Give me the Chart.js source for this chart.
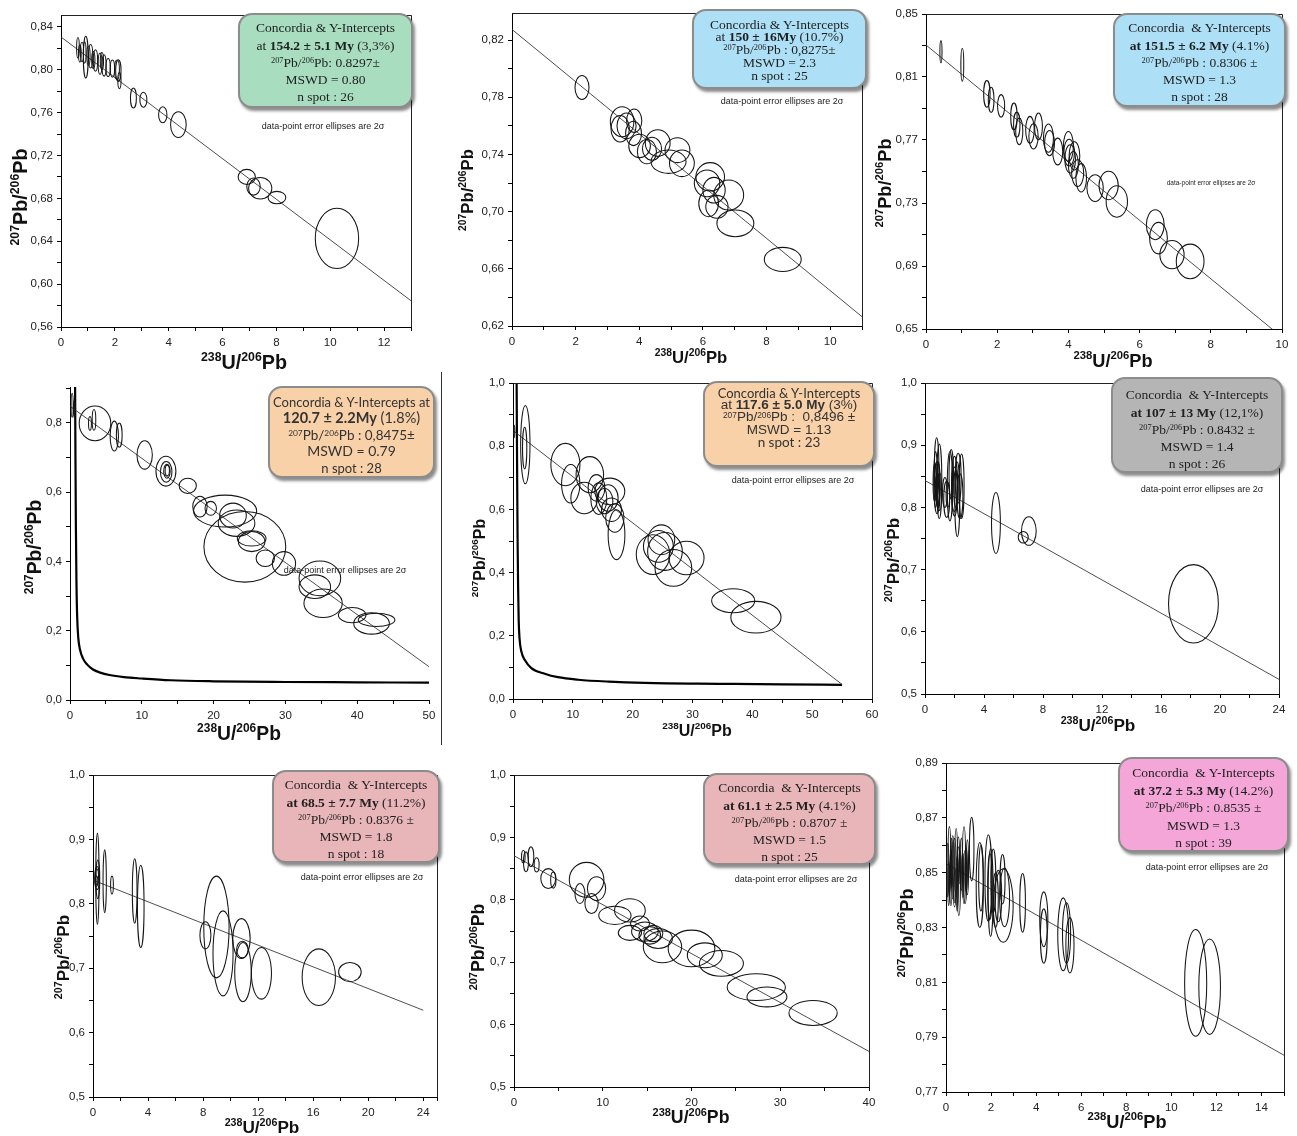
<!DOCTYPE html>
<html><head><meta charset="utf-8">
<script src="https://cdn.jsdelivr.net/npm/chart.js@4.4.1/dist/chart.umd.min.js"></script>
<style>
html,body{margin:0;padding:0;background:#fff;}
body{position:relative;width:1297px;height:1136px;overflow:hidden;}
canvas.pc{position:absolute;z-index:1;}
.box{position:absolute;z-index:5;box-sizing:border-box;border:2px solid #8c8c8c;border-radius:14px;box-shadow:2px 3px 3px rgba(0,0,0,0.45);text-align:center;color:#1e1e1e;font-family:"Liberation Serif","Times New Roman",serif;font-size:13.5px;}
.box div{white-space:pre;}
.box sup{font-size:0.62em;vertical-align:0;position:relative;top:-0.45em;line-height:0;}
.sans{font-family:Lato,"Liberation Sans",sans-serif;font-size:13px;color:#333;}
.note{position:absolute;z-index:5;font-family:"Liberation Sans",Arial,sans-serif;font-size:9px;color:#222;transform:translate(-50%,-50%);white-space:nowrap;}
.sep{position:absolute;left:441px;top:372px;width:1px;height:373px;background:#333;}
</style></head>
<body>
<div class="sep"></div>

<div class="box" style="left:238px;top:13px;width:175px;height:95px;padding-top:4.3px;background:#a8ddc0">
<div style="height:17.3px;line-height:17.3px">Concordia &amp; Y-Intercepts</div>
<div style="height:17.3px;line-height:17.3px">at <b>154.2 ± 5.1 My</b> (3,3%)</div>
<div style="height:17.3px;line-height:17.3px"><sup>207</sup>Pb/<sup>206</sup>Pb: 0.8297±</div>
<div style="height:17.3px;line-height:17.3px">MSWD = 0.80</div>
<div style="height:17.3px;line-height:17.3px">n spot : 26</div>
</div>
<div class="note" style="left:323px;top:126px">data-point error ellipses are 2σ</div>

<div class="box" style="left:692px;top:9px;width:175px;height:80px;padding-top:7.6px;background:#ade0f6">
<div style="height:12.75px;line-height:12.75px">Concordia &amp; Y-Intercepts</div>
<div style="height:12.75px;line-height:12.75px">at <b>150 ± 16My</b> (10.7%)</div>
<div style="height:12.75px;line-height:12.75px"><sup>207</sup>Pb/<sup>206</sup>Pb : 0,8275±</div>
<div style="height:12.75px;line-height:12.75px">MSWD = 2.3</div>
<div style="height:12.75px;line-height:12.75px">n spot : 25</div>
</div>
<div class="note" style="left:782px;top:101px">data-point error ellipses are 2σ</div>

<div class="box" style="left:1113px;top:13px;width:173px;height:94px;padding-top:4.3px;background:#ade0f6">
<div style="height:17.3px;line-height:17.3px">Concordia  &amp; Y-Intercepts</div>
<div style="height:17.3px;line-height:17.3px"><b>at 151.5 ± 6.2 My</b> (4.1%)</div>
<div style="height:17.3px;line-height:17.3px"><sup>207</sup>Pb/<sup>206</sup>Pb : 0.8306 ±</div>
<div style="height:17.3px;line-height:17.3px">MSWD = 1.3</div>
<div style="height:17.3px;line-height:17.3px">n spot : 28</div>
</div>
<div class="note" style="left:1211px;top:182px;font-size:6.5px">data-point error ellipses are 2σ</div>

<div class="box sans" style="left:268px;top:386px;width:167px;height:92px;padding-top:5.7px;background:#f9d1a8">
<div style="height:16.5px;line-height:16.5px;font-size:13px">Concordia &amp; Y-Intercepts at</div>
<div style="height:16.5px;line-height:16.5px;font-size:14.5px"><b>120.7 ± 2.2My</b> (1.8%)</div>
<div style="height:16.5px;line-height:16.5px;font-size:13.5px"><sup>207</sup>Pb/<sup>206</sup>Pb : 0,8475±</div>
<div style="height:16.5px;line-height:16.5px;font-size:14px">MSWD = 0.79</div>
<div style="height:16.5px;line-height:16.5px;font-size:13px">n spot : 28</div>
</div>
<div class="note" style="left:345px;top:570px">data-point error ellipses are 2σ</div>

<div class="box sans" style="left:703px;top:381px;width:172px;height:86px;padding-top:3.9px;background:#f9d1a8">
<div style="height:12.25px;line-height:12.25px">Concordia &amp; Y-Intercepts</div>
<div style="height:12.25px;line-height:12.25px;font-family:'Liberation Sans';font-size:13.5px">at <b>117.6 ± 5.0 My</b> (3%)</div>
<div style="height:12.25px;line-height:12.25px;font-family:'Liberation Sans';font-size:13.5px"><sup>207</sup>Pb/<sup>206</sup>Pb :  0,8496 ±</div>
<div style="height:12.25px;line-height:12.25px;font-family:'Liberation Sans';font-size:13.5px">MSWD = 1.13</div>
<div style="height:12.25px;line-height:12.25px;font-size:13.5px">n spot : 23</div>
</div>
<div class="note" style="left:793px;top:480px">data-point error ellipses are 2σ</div>

<div class="box" style="left:1111px;top:377px;width:172px;height:96px;padding-top:7.3px;background:#b5b5b5">
<div style="height:17.3px;line-height:17.3px">Concordia  &amp; Y-Intercepts</div>
<div style="height:17.3px;line-height:17.3px"><b>at 107 ± 13 My</b> (12,1%)</div>
<div style="height:17.3px;line-height:17.3px"><sup>207</sup>Pb/<sup>206</sup>Pb : 0.8432 ±</div>
<div style="height:17.3px;line-height:17.3px">MSWD = 1.4</div>
<div style="height:17.3px;line-height:17.3px">n spot : 26</div>
</div>
<div class="note" style="left:1202px;top:489px">data-point error ellipses are 2σ</div>

<div class="box" style="left:272px;top:770px;width:168px;height:93px;padding-top:4.3px;background:#e8b5b9">
<div style="height:17.3px;line-height:17.3px">Concordia  &amp; Y-Intercepts</div>
<div style="height:17.3px;line-height:17.3px"><b>at 68.5 ± 7.7 My</b> (11.2%)</div>
<div style="height:17.3px;line-height:17.3px"><sup>207</sup>Pb/<sup>206</sup>Pb : 0.8376 ±</div>
<div style="height:17.3px;line-height:17.3px">MSWD = 1.8</div>
<div style="height:17.3px;line-height:17.3px">n spot : 18</div>
</div>
<div class="note" style="left:362px;top:877px">data-point error ellipses are 2σ</div>

<div class="box" style="left:703px;top:773px;width:173px;height:92px;padding-top:4.3px;background:#e8b5b9">
<div style="height:17.3px;line-height:17.3px">Concordia  &amp; Y-Intercepts</div>
<div style="height:17.3px;line-height:17.3px"><b>at 61.1 ± 2.5 My</b> (4.1%)</div>
<div style="height:17.3px;line-height:17.3px"><sup>207</sup>Pb/<sup>206</sup>Pb : 0.8707 ±</div>
<div style="height:17.3px;line-height:17.3px">MSWD = 1.5</div>
<div style="height:17.3px;line-height:17.3px">n spot : 25</div>
</div>
<div class="note" style="left:796px;top:879px">data-point error ellipses are 2σ</div>

<div class="box" style="left:1118px;top:757px;width:171px;height:95px;padding-top:5.2px;background:#f4a6d8">
<div style="height:17.5px;line-height:17.5px">Concordia  &amp; Y-Intercepts</div>
<div style="height:17.5px;line-height:17.5px"><b>at 37.2 ± 5.3 My</b> (14.2%)</div>
<div style="height:17.5px;line-height:17.5px"><sup>207</sup>Pb/<sup>206</sup>Pb : 0.8535 ±</div>
<div style="height:17.5px;line-height:17.5px">MSWD = 1.3</div>
<div style="height:17.5px;line-height:17.5px">n spot : 39</div>
</div>
<div class="note" style="left:1207px;top:867px">data-point error ellipses are 2σ</div>

<script>
// ---------------- DATA ----------------
// Panel 1
const p1X  = [0.63,0.70,0.78,0.92,0.88,1.02,1.10,1.20,1.28,1.45,1.52,1.60,1.75,1.91,2.08,2.13,2.17,2.69,3.06,3.78,4.36,6.90,7.15,7.40,8.02,10.25];
const p1Y  = [0.8205,0.815,0.8165,0.8117,0.816,0.813,0.8125,0.809,0.8086,0.8055,0.808,0.804,0.802,0.801,0.800,0.7992,0.7898,0.7736,0.772,0.758,0.7487,0.700,0.691,0.6894,0.6807,0.6426];
const p1RX = [0.05,0.05,0.06,0.09,0.05,0.06,0.08,0.06,0.08,0.07,0.06,0.075,0.08,0.08,0.09,0.10,0.06,0.11,0.13,0.155,0.29,0.32,0.25,0.43,0.33,0.805];
const p1RY = [0.0096,0.008,0.009,0.0195,0.010,0.009,0.011,0.008,0.010,0.010,0.008,0.010,0.0085,0.008,0.009,0.0101,0.0075,0.0094,0.007,0.0075,0.012,0.007,0.008,0.0101,0.0058,0.0281];
const p1LineX = [0, 13];
const p1LineY = [0.8305, 0.5845];
// Panel 2
const p2X  = [2.20,3.46,3.40,3.84,3.82,4.01,4.24,4.58,4.92,5.20,5.34,6.23,6.13,6.18,6.81,6.44,7.02,8.51,3.60,6.35,4.40];
const p2Y  = [0.7869,0.7629,0.758,0.7636,0.7547,0.746,0.742,0.748,0.735,0.743,0.7338,0.7244,0.7198,0.7058,0.7116,0.7034,0.6918,0.6666,0.760,0.715,0.744];
const p2RX = [0.22,0.37,0.29,0.24,0.25,0.34,0.30,0.39,0.55,0.39,0.39,0.45,0.40,0.31,0.47,0.35,0.58,0.58,0.30,0.35,0.30];
const p2RY = [0.0084,0.0105,0.0093,0.0082,0.0085,0.0082,0.0085,0.0093,0.0082,0.0087,0.0093,0.0099,0.0093,0.0093,0.0105,0.0080,0.0093,0.0084,0.009,0.009,0.008];
const p2LineX = [0, 11];
const p2LineY = [0.8275, 0.6265];
// Panel 3
const p3X  = [0.42,1.02,1.71,1.83,2.11,2.47,2.55,2.62,2.92,3.02,3.16,3.44,3.47,3.70,4.00,4.02,4.17,4.14,4.26,4.36,4.75,5.13,5.36,6.44,6.53,6.91,7.42,4.05];
const p3Y  = [0.8261,0.8177,0.7993,0.7955,0.7917,0.785,0.7797,0.7755,0.7765,0.7723,0.7786,0.7712,0.768,0.7627,0.7659,0.762,0.7599,0.7542,0.749,0.746,0.7395,0.7411,0.731,0.7162,0.7077,0.6972,0.6929,0.758];
const p3RX = [0.03,0.04,0.09,0.08,0.10,0.09,0.09,0.10,0.12,0.13,0.11,0.14,0.14,0.14,0.14,0.15,0.15,0.14,0.17,0.15,0.23,0.27,0.30,0.25,0.25,0.34,0.39,0.15];
const p3RY = [0.007,0.0104,0.0085,0.008,0.0071,0.0085,0.008,0.0085,0.0085,0.008,0.0085,0.009,0.008,0.0085,0.0095,0.0085,0.009,0.0085,0.0085,0.009,0.0085,0.009,0.010,0.0095,0.010,0.009,0.011,0.009];
const p3LineX = [0, 10];
const p3LineY = [0.8303, 0.6448];
// Panel 4
const p4X  = [0.30,0.60,3.48,3.34,2.78,6.17,6.86,10.4,13.36,13.4,13.5,13.55,16.4,18.1,19.6,21.6,22.7,23.2,24.35,25.3,25.3,27.2,29.8,34.8,34.1,35.25,39.3,42.0,42.7];
const p4Y  = [0.850,0.840,0.798,0.808,0.798,0.7615,0.764,0.707,0.660,0.658,0.660,0.662,0.618,0.558,0.553,0.545,0.532,0.510,0.442,0.466,0.457,0.409,0.394,0.351,0.327,0.279,0.245,0.221,0.231];
const p4RX = [0.15,0.12,2.2,0.25,0.2,0.58,0.4,1.07,1.39,0.8,0.45,0.3,1.2,1.0,0.8,4.4,1.86,2.55,5.7,2.0,1.85,1.28,1.62,2.9,2.2,2.67,1.92,2.48,2.55];
const p4RY = [0.035,0.025,0.05,0.03,0.02,0.043,0.035,0.041,0.043,0.03,0.02,0.015,0.022,0.03,0.02,0.046,0.036,0.038,0.102,0.022,0.029,0.024,0.034,0.05,0.034,0.041,0.022,0.031,0.019];
const p4LineX = [0, 50];
const p4LineY = [0.8475, 0.096];
const p4ConcX = [0.70,0.76,0.82,0.90,1.00,1.15,1.40,1.80,2.40,3.20,4.20,5.50,7.50,10,14,20,30,40,50];
const p4ConcY = [0.95,0.70,0.50,0.34,0.24,0.18,0.145,0.12,0.102,0.088,0.079,0.072,0.066,0.062,0.057,0.054,0.052,0.051,0.05];
// Panel 5
const p5X  = [2.06,1.95,0.20,8.76,9.65,12.84,11.90,13.95,14.34,16.18,15.90,15.30,16.46,17.02,17.30,23.40,24.80,24.30,25.40,26.80,29.00,36.80,40.60];
const p5Y  = [0.805,0.794,0.847,0.742,0.681,0.710,0.636,0.668,0.634,0.657,0.636,0.626,0.599,0.573,0.520,0.457,0.504,0.483,0.467,0.415,0.446,0.311,0.259];
const p5RX = [0.78,0.36,0.10,2.43,1.53,2.30,2.23,1.40,1.34,2.50,1.67,1.40,1.67,1.53,1.40,2.80,2.23,2.50,2.90,3.07,2.93,3.60,4.20];
const p5RY = [0.124,0.066,0.02,0.067,0.061,0.057,0.050,0.042,0.050,0.042,0.042,0.040,0.037,0.045,0.079,0.063,0.047,0.050,0.060,0.058,0.053,0.038,0.050];
const p5LineX = [0, 55];
const p5LineY = [0.8496, 0.046];
const p5ConcX = [0.60,0.68,0.76,0.85,0.95,1.10,1.40,1.95,3.07,5.3,7.5,10.9,16,22,35,45,55];
const p5ConcY = [1.02,0.75,0.52,0.36,0.25,0.19,0.15,0.124,0.098,0.080,0.069,0.061,0.055,0.051,0.048,0.046,0.045];
// Panel 6
const p6X  = [0.65,0.72,0.79,0.82,0.85,0.90,0.97,1.00,0.75,0.88,1.35,1.47,1.55,1.69,1.78,1.99,2.00,2.10,2.19,2.25,2.37,2.48,4.81,6.66,7.04,18.2];
const p6Y  = [0.840,0.845,0.864,0.832,0.830,0.838,0.842,0.825,0.850,0.820,0.824,0.813,0.820,0.834,0.853,0.829,0.834,0.830,0.813,0.847,0.818,0.834,0.775,0.752,0.762,0.645];
const p6RX = [0.10,0.12,0.15,0.20,0.15,0.12,0.17,0.12,0.10,0.10,0.16,0.20,0.12,0.18,0.15,0.19,0.20,0.15,0.17,0.20,0.20,0.17,0.30,0.34,0.50,1.69];
const p6RY = [0.030,0.045,0.048,0.042,0.025,0.035,0.060,0.030,0.020,0.020,0.024,0.029,0.020,0.056,0.040,0.036,0.048,0.030,0.060,0.040,0.036,0.052,0.049,0.0093,0.023,0.063];
const p6LineX = [0, 24];
const p6LineY = [0.8432, 0.5235];
// Panel 7
const p7X  = [0.32,0.30,0.35,0.28,0.25,0.85,1.38,3.03,3.47,8.17,8.97,9.45,10.79,10.86,10.90,12.24,16.41,18.67];
const p7Y  = [0.839,0.840,0.838,0.842,0.835,0.835,0.829,0.820,0.796,0.751,0.764,0.723,0.746,0.729,0.694,0.692,0.686,0.694];
const p7RX = [0.12,0.17,0.14,0.12,0.10,0.12,0.10,0.17,0.24,0.40,0.92,0.73,0.63,0.42,0.60,0.73,1.21,0.82];
const p7RY = [0.071,0.018,0.030,0.012,0.008,0.049,0.014,0.050,0.064,0.021,0.079,0.066,0.031,0.013,0.046,0.040,0.044,0.015];
const p7LineX = [0, 24];
const p7LineY = [0.8368, 0.6347];
// Panel 8
const p8X  = [1.05,1.35,1.91,2.55,3.86,4.43,8.18,7.43,9.30,8.74,11.37,13.06,14.20,13.06,14.75,15.30,15.70,16.25,16.73,20.00,21.50,23.37,27.30,28.50,33.70];
const p8Y  = [0.869,0.861,0.869,0.856,0.834,0.8316,0.832,0.810,0.818,0.794,0.775,0.783,0.762,0.747,0.749,0.743,0.746,0.738,0.7246,0.722,0.711,0.698,0.660,0.6444,0.6187];
const p8RX = [0.20,0.28,0.32,0.28,0.84,0.30,1.95,0.56,1.03,0.75,1.82,1.73,1.07,1.31,1.50,1.22,1.07,1.60,2.16,2.63,1.97,2.48,3.28,2.25,2.72];
const p8RY = [0.010,0.016,0.016,0.0115,0.016,0.013,0.028,0.016,0.019,0.016,0.0147,0.0187,0.012,0.012,0.0155,0.014,0.013,0.016,0.0254,0.0294,0.020,0.0206,0.0214,0.016,0.020];
const p8LineX = [0, 40];
const p8LineY = [0.8706, 0.557];
// Panel 9
const p9X  = [0.08,0.15,0.22,0.30,0.38,0.45,0.50,0.57,0.62,0.68,0.75,0.80,0.85,0.90,0.40,0.12,0.55,0.25,0.95,1.14,1.50,1.55,1.88,1.98,2.10,2.32,2.51,2.54,2.60,3.40,4.34,4.34,5.20,5.35,5.50,11.08,11.70,1.95,2.20];
const p9Y  = [0.851,0.8546,0.848,0.852,0.850,0.8536,0.846,0.8469,0.852,0.8531,0.849,0.8527,0.8485,0.851,0.845,0.846,0.855,0.8535,0.852,0.8586,0.8455,0.848,0.848,0.8427,0.847,0.8415,0.8476,0.838,0.841,0.839,0.833,0.8269,0.8275,0.828,0.8235,0.8098,0.8084,0.845,0.840];
const p9RX = [0.05,0.06,0.05,0.06,0.07,0.06,0.05,0.07,0.05,0.05,0.05,0.07,0.07,0.05,0.05,0.04,0.05,0.05,0.05,0.10,0.16,0.10,0.15,0.11,0.11,0.15,0.11,0.44,0.22,0.125,0.18,0.15,0.24,0.18,0.18,0.49,0.48,0.10,0.12];
const p9RY = [0.0097,0.0122,0.010,0.0115,0.0125,0.0125,0.010,0.0125,0.006,0.0095,0.008,0.014,0.0097,0.008,0.006,0.008,0.008,0.009,0.010,0.0116,0.0155,0.012,0.0158,0.016,0.0116,0.0094,0.009,0.0134,0.0107,0.0107,0.010,0.0099,0.0133,0.011,0.0101,0.0195,0.0174,0.012,0.010];
const p9LineX = [0, 15];
const p9LineY = [0.8533, 0.7834];

// axis titles: [text, isSuperscript]
const yTitleParts = [['207', true], ['Pb/', false], ['206', true], ['Pb', false]];
const xTitleParts = [['238', true], ['U/', false], ['206', true], ['Pb', false]];

// ---------------- AXES & LAYOUT ----------------
const AXES = [
  {xMin:0,xMax:13,xStep:1,xMajor:2,yMin:0.56,yMax:0.851,yStep:0.02,yMajor:0.04,yBase:0.56,yDec:2},
  {xMin:0,xMax:11,xStep:1,xMajor:2,yMin:0.62,yMax:0.839,yStep:0.02,yMajor:0.04,yBase:0.62,yDec:2},
  {xMin:0,xMax:10,xStep:1,xMajor:2,yMin:0.65,yMax:0.85,yStep:0.02,yMajor:0.04,yBase:0.65,yDec:2},
  {xMin:0,xMax:50,xStep:5,xMajor:10,yMin:0,yMax:0.903,yStep:0.1,yMajor:0.2,yBase:0,yDec:1},
  {xMin:0,xMax:60,xStep:5,xMajor:10,yMin:0,yMax:1.0,yStep:0.1,yMajor:0.2,yBase:0,yDec:1},
  {xMin:0,xMax:24,xStep:2,xMajor:4,yMin:0.5,yMax:1.0,yStep:0.05,yMajor:0.1,yBase:0.5,yDec:1},
  {xMin:0,xMax:25,xStep:2,xMajor:4,yMin:0.5,yMax:1.0,yStep:0.05,yMajor:0.1,yBase:0.5,yDec:1},
  {xMin:0,xMax:40,xStep:5,xMajor:10,yMin:0.5,yMax:1.0,yStep:0.05,yMajor:0.1,yBase:0.5,yDec:1},
  {xMin:0,xMax:15,xStep:1,xMajor:2,yMin:0.77,yMax:0.89,yStep:0.01,yMajor:0.02,yBase:0.77,yDec:2}
];
// plot rect (L,T,R,B); y-title centre (ytx,yty); x-title centre (xtx,xty); ts font size
const LAYOUT = [
  {L:61, T:15, R:411, B:327, ytx:20, yty:197, xtx:244, xty:362, ts:19.8, frame:true},
  {L:512,T:13, R:862, B:326, ytx:467,yty:190, xtx:691, xty:357, ts:16.7, frame:true},
  {L:926,T:14, R:1282,B:329, ytx:884,yty:183, xtx:1113,xty:360, ts:18.2, frame:true},
  {L:70, T:387,R:429, B:700, ytx:34, yty:547, xtx:239, xty:733, ts:19.3, frame:false},
  {L:513,T:383,R:872, B:699, ytx:479,yty:558, xtx:697, xty:730, ts:16,   frame:true},
  {L:925,T:383,R:1279,B:694, ytx:893,yty:560, xtx:1098,xty:725, ts:17.2, frame:true},
  {L:93, T:775,R:437, B:1097,ytx:63, yty:957, xtx:262, xty:1127,ts:17.2, frame:true},
  {L:514,T:775,R:869, B:1087,ytx:478,yty:947, xtx:691, xty:1117,ts:17.7, frame:true},
  {L:946,T:763,R:1284,B:1092,ytx:906,yty:933, xtx:1127,xty:1121,ts:18.2, frame:true}
];

// ---------------- PLUGINS ----------------
const ellipsePlugin = {
  id: 'ellipses',
  afterDatasetsDraw(chart) {
    const {ctx, chartArea: a, scales: {x, y}} = chart;
    ctx.save();
    ctx.beginPath(); ctx.rect(a.left, a.top, a.right - a.left, a.bottom - a.top); ctx.clip();
    chart.data.datasets.forEach(ds => {
      if (!ds.rx) return;
      ctx.strokeStyle = '#151515';
      ctx.lineWidth = 1.05;
      ds.data.forEach((p, i) => {
        const cx = x.getPixelForValue(p.x), cy = y.getPixelForValue(p.y);
        const w = Math.abs(x.getPixelForValue(p.x + ds.rx[i]) - cx);
        const h = Math.abs(y.getPixelForValue(p.y + ds.ry[i]) - cy);
        ctx.beginPath();
        ctx.ellipse(cx, cy, Math.max(w, 0.6), Math.max(h, 0.6), 0, 0, Math.PI * 2);
        ctx.stroke();
      });
    });
    ctx.restore();
  }
};
const framePlugin = {
  id: 'frame',
  afterDraw(chart, args, opts) {
    if (!opts || !opts.show) return;
    const {ctx, chartArea: a} = chart;
    ctx.save();
    ctx.strokeStyle = '#222';
    ctx.lineWidth = 1;
    ctx.beginPath();
    ctx.moveTo(Math.round(a.left) + 0.5, Math.round(a.top) + 0.5);
    ctx.lineTo(Math.round(a.right) + 0.5, Math.round(a.top) + 0.5);
    ctx.lineTo(Math.round(a.right) + 0.5, Math.round(a.bottom) + 0.5);
    ctx.stroke();
    ctx.restore();
  }
};
const richTitlePlugin = {
  id: 'richTitles',
  afterDraw(chart, args, o) {
    if (!o || !o.ts) return;
    const ctx = chart.ctx;
    const fam = '"Liberation Sans", Arial, sans-serif';
    const draw = (parts, px, py, rot) => {
      ctx.save();
      ctx.translate(px, py); ctx.rotate(rot);
      ctx.textAlign = 'left'; ctx.textBaseline = 'alphabetic'; ctx.fillStyle = '#111';
      let total = 0;
      const m = parts.map(([t, sup]) => {
        const size = sup ? o.ts * 0.62 : o.ts;
        ctx.font = 'bold ' + size + 'px ' + fam;
        const w = ctx.measureText(t).width;
        total += w;
        return {t, sup, size, w};
      });
      let cx = -total / 2;
      const base = o.ts * 0.36;
      m.forEach(p => {
        ctx.font = 'bold ' + p.size + 'px ' + fam;
        ctx.fillText(p.t, cx, p.sup ? base - o.ts * 0.4 : base);
        cx += p.w;
      });
      ctx.restore();
    };
    draw(xTitleParts, o.xtx, o.xty, 0);
    draw(yTitleParts, o.ytx, o.yty, -Math.PI / 2);
  }
};
Chart.register(ellipsePlugin, framePlugin, richTitlePlugin);
Chart.defaults.font.family = '"Liberation Sans", Arial, sans-serif';

const near = (v, base, step) => { const q = (v - base) / step; return Math.abs(q - Math.round(q)) < 1e-6; };
const pts = (X, Y) => X.map((v, i) => ({x: v, y: Y[i]}));

function makePanel(k, X, Y, RX, RY, LX, LY, CX, CY) {
  const ax = AXES[k], lay = LAYOUT[k];
  const left = Math.round(lay.ytx - lay.ts * 0.6);
  const W = lay.L - left;
  const padT = 12, padR = 14;
  const top = lay.T - padT;
  const H = Math.round(lay.xty - lay.B + lay.ts * 0.6);
  const width = W + (lay.R - lay.L) + padR;
  const height = padT + (lay.B - lay.T) + H;
  const cv = document.createElement('canvas');
  cv.className = 'pc';
  cv.width = width; cv.height = height;
  cv.style.left = left + 'px'; cv.style.top = top + 'px';
  cv.style.width = width + 'px'; cv.style.height = height + 'px';
  document.body.appendChild(cv);

  const datasets = [
    {data: pts(X, Y), rx: RX, ry: RY, pointRadius: 0, showLine: false},
    {data: pts(LX, LY), showLine: true, borderColor: '#3a3a3a', borderWidth: 0.9, pointRadius: 0}
  ];
  if (CX) datasets.push({data: pts(CX, CY), showLine: true, borderColor: '#000', borderWidth: 2.2, pointRadius: 0, cubicInterpolationMode: 'monotone'});

  const gridOpt = {display: true, drawOnChartArea: false, drawTicks: true, tickLength: 4, color: '#000', tickColor: '#000'};
  const borderOpt = {display: true, color: '#000', width: 1};
  new Chart(cv, {
    type: 'scatter',
    data: {datasets},
    options: {
      responsive: false, animation: false, events: [],
      layout: {padding: {top: padT, right: padR, left: 0, bottom: 0}},
      plugins: {
        legend: {display: false}, tooltip: {enabled: false}, frame: {show: lay.frame},
        richTitles: {ts: lay.ts, xtx: lay.xtx - left, xty: lay.xty - top, ytx: lay.ytx - left, yty: lay.yty - top}
      },
      scales: {
        x: {
          type: 'linear', min: ax.xMin, max: ax.xMax, bounds: 'data',
          afterFit: s => { s.height = H; },
          border: borderOpt, grid: gridOpt,
          ticks: {stepSize: ax.xStep, autoSkip: false, maxRotation: 0, includeBounds: false, padding: 5,
                  color: '#222', font: {size: 11.5},
                  callback: v => near(v, ax.xMin, ax.xMajor) ? String(Math.round(v)) : ''},
          title: {display: false}
        },
        y: {
          type: 'linear', min: ax.yMin, max: ax.yMax, bounds: 'data',
          afterFit: s => { s.width = W; },
          border: borderOpt, grid: gridOpt,
          ticks: {stepSize: ax.yStep, autoSkip: false, includeBounds: false, padding: 4,
                  color: '#222', font: {size: 11.5},
                  callback: v => near(v, ax.yBase, ax.yMajor) ? v.toFixed(ax.yDec).replace('.', ',') : ''},
          title: {display: false}
        }
      }
    }
  });
}

makePanel(0, p1X, p1Y, p1RX, p1RY, p1LineX, p1LineY);
makePanel(1, p2X, p2Y, p2RX, p2RY, p2LineX, p2LineY);
makePanel(2, p3X, p3Y, p3RX, p3RY, p3LineX, p3LineY);
makePanel(3, p4X, p4Y, p4RX, p4RY, p4LineX, p4LineY, p4ConcX, p4ConcY);
makePanel(4, p5X, p5Y, p5RX, p5RY, p5LineX, p5LineY, p5ConcX, p5ConcY);
makePanel(5, p6X, p6Y, p6RX, p6RY, p6LineX, p6LineY);
makePanel(6, p7X, p7Y, p7RX, p7RY, p7LineX, p7LineY);
makePanel(7, p8X, p8Y, p8RX, p8RY, p8LineX, p8LineY);
makePanel(8, p9X, p9Y, p9RX, p9RY, p9LineX, p9LineY);
</script>
</body></html>
